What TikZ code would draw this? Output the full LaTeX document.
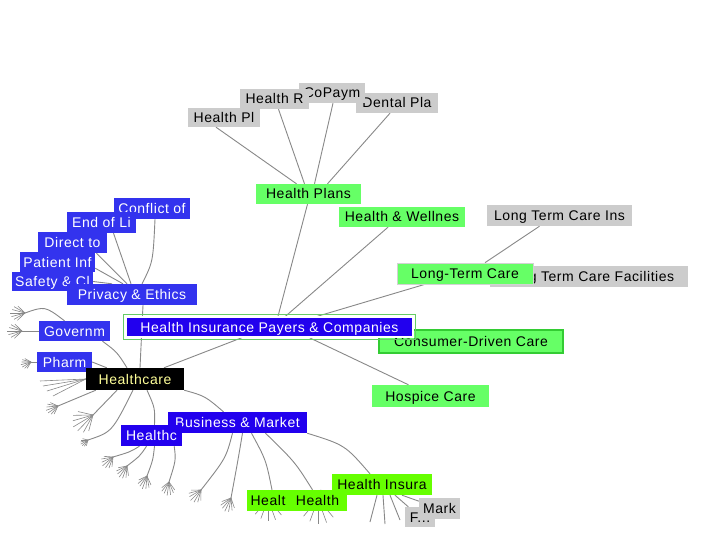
\documentclass[tikz,border=0pt]{standalone}
\usepackage{fontspec}
\setmainfont{Liberation Sans}[LetterSpace=4]
\usetikzlibrary{calc,backgrounds}
\definecolor{linec}{RGB}{136,136,136}
\definecolor{leafc}{RGB}{204,204,204}
\definecolor{greenc}{RGB}{102,255,102}
\definecolor{limec}{RGB}{102,255,0}
\definecolor{cdcline}{RGB}{51,204,51}
\definecolor{bluea}{RGB}{51,51,238}
\definecolor{blueb}{RGB}{34,0,238}
\definecolor{roottext}{RGB}{255,255,153}
\definecolor{hipframe}{RGB}{102,204,102}
\tikzset{
  lbl/.style={rectangle, inner sep=0pt, font=\fontsize{14}{16}\selectfont, text height=10pt, text depth=0pt},
  leafbox/.style={lbl, fill=leafc, text=black},
  greenbox/.style={lbl, fill=greenc, text=black},
  limebox/.style={lbl, fill=limec, text=black},
  bluebox/.style={lbl, fill=bluea, text=white},
  deepbox/.style={lbl, fill=blueb, text=white},
  rootbox/.style={lbl, fill=black, text=roottext},
  lnk/.style={draw=linec, line width=0.9pt},
  spoke/.style={draw=linec, line width=0.6pt},
  fanpic/.pic={\foreach \ang/\len in {-44/0.75,-30/0.9,-15/1,0/1.05,15/0.95,30/0.9,44/0.7}{\draw[spoke] (0,0) -- (\ang:\len);}},
  sparsefan/.pic={\foreach \ang/\len in {-40/0.95,-20/1,0/1,20/0.95,40/0.9}{\draw[spoke] (0,0) -- (\ang:\len);}}
}
\newcommand\mybox[7]{\node[#6, minimum width={#4-#2}, minimum height={#5-#3}] (#1) at ({(#2+#4)/2},{(#3+#5)/2}) {#7};}
\begin{document}
\begin{tikzpicture}[x=1pt,y=-1pt]
\useasboundingbox (0,0) rectangle (720,540);
% grey leaves
\mybox{ltf}{490}{266}{688}{287}{leafbox}{Long Term Care Facilities}
\mybox{ltci}{487}{205}{632}{226}{leafbox}{Long Term Care Ins}
\mybox{dent}{356}{93}{438}{113}{leafbox}{Dental Pla}
\mybox{copay}{299}{83}{365}{103}{leafbox}{CoPaym}
\mybox{hr}{240}{89}{309}{109}{leafbox}{Health R}
\mybox{hpl}{188}{108}{260}{127}{leafbox}{Health Pl}
% green
\mybox{hplans}{256}{184}{361}{204}{greenbox}{Health Plans}
\mybox{hwel}{339}{207}{465}{227}{greenbox}{Health \& Wellnes}
\mybox{ltc}{397}{263}{533}{284}{greenbox,draw=gray!35,line width=0.6pt}{Long-Term Care}
\mybox{hosp}{372}{385}{489}{407}{greenbox}{Hospice Care}
\mybox{cdc}{379}{330}{563}{353}{greenbox,draw=cdcline,line width=2pt}{Consumer-Driven Care}
% blue
\mybox{conf}{114}{198}{190}{219}{bluebox}{Conflict of}
\mybox{eol}{67}{212}{136}{233}{bluebox}{End of Li}
\mybox{dir}{38}{232}{107}{253}{bluebox}{Direct to}
\mybox{pat}{20}{252}{95}{272}{bluebox}{Patient Inf}
\mybox{saf}{12}{272}{93}{291}{bluebox}{Safety \& Cl}
\mybox{priv}{67}{284}{197}{305}{bluebox}{Privacy \& Ethics}
\mybox{gov}{39}{321}{110}{341}{bluebox}{Governm}
\mybox{pharm}{37}{352}{92}{372}{bluebox}{Pharm}
\mybox{hip}{126}{317}{413}{337}{deepbox,draw=white,line width=1.5pt}{Health Insurance Payers \& Companies}
\draw[hipframe, line width=0.8pt] ($(hip.south west)+(-1.5,1.5)$) rectangle ($(hip.north east)+(1.5,-1.5)$);
\mybox{bm}{168}{412}{307}{433}{deepbox}{Business \& Market}
\mybox{hc}{121}{425}{182}{446}{deepbox}{Healthc}
\mybox{root}{86}{368}{184}{390}{rootbox}{Healthcare}
% lime
\mybox{hins}{332}{474}{432}{495}{limebox}{Health Insura}
\mybox{healt}{247}{490}{289}{511}{limebox}{Healt}
\mybox{hlth}{288}{490}{347}{511}{limebox}{Health}
\mybox{fdot}{405}{507}{435}{527}{leafbox}{F...}
\mybox{mark}{419}{498}{460}{519}{leafbox}{Mark}
% hubs and free ends
\coordinate (f1) at (25,313);
\coordinate (f2) at (22,331);
\coordinate (f3) at (31,362);
\coordinate (f4) at (58,406);
\coordinate (f5) at (93,415);
\coordinate (f6) at (88,440);
\coordinate (h1) at (113,457);
\coordinate (h2) at (127,466);
\coordinate (h3) at (147,476);
\coordinate (h4) at (169,482);
\coordinate (b1) at (201,490);
\coordinate (b2) at (231,498);
\coordinate (u1) at (268,499);
\coordinate (u2) at (318,499);
\coordinate (r1) at (40,381);
\coordinate (r2) at (43,386);
\coordinate (r3) at (47,391);
\coordinate (r4) at (53,396);
\coordinate (i1) at (370,522);
\coordinate (i2) at (385,524);
\coordinate (i3) at (400,520);
\begin{pgfonlayer}{background}
\fill[white] (0,0) rectangle (720,540);
% health plans
\draw[lnk] ($(hpl.south)+(-8,0)$) -- ($(hplans.north)+(-12,0)$);
\draw[lnk] ($(hr.south)+(4,0)$) -- ($(hplans.north)+(-4,0)$);
\draw[lnk] ($(copay.south)+(1,0)$) -- ($(hplans.north)+(6,0)$);
\draw[lnk] ($(dent.south)+(-7,0)$) -- ($(hplans.north)+(19,0)$);
\draw[lnk] ($(hplans.south)+(-1,0)$) -- ($(hip.north)+(8.5,0)$);
\draw[lnk] ($(hwel.south)+(-14,0)$) -- ($(hip.north)+(16,0)$);
\draw[lnk] ($(ltc.south)+(-40,0)$) -- ($(hip.north)+(48,0)$);
\draw[lnk] ($(ltci.south)+(-20,0)$) -- ($(ltc.north)+(20,0)$);
\draw[lnk] (ltf) -- (ltc);
\draw[lnk] (cdc) -- (hip);
\draw[lnk] ($(hosp.north)+(-22,0)$) -- ($(hip.south)+(40,0)$);
\draw[lnk] (hip) -- (root);
% privacy
\draw[lnk] ($(priv.south)+(11,0)$) -- ($(root.north)+(5,0)$);
\draw[lnk] ($(conf.south)+(3,0)$) .. controls (153,262) .. ($(priv.north)+(10,0)$);
\draw[lnk] ($(eol.south)+(12,0)$) -- ($(priv.north)+(-1,0)$);
\draw[lnk] ($(dir.south)+(24,0)$) -- ($(priv.north)+(-5,0)$);
\draw[lnk] ($(pat.south east)+(0,-4)$) -- ($(priv.north)+(-9,0)$);
\draw[lnk] (saf.east) -- ($(priv.north)+(-20,0)$);
% root children
\draw[lnk] ($(gov.south)+(28,0)$) .. controls (117,352) .. ($(root.north)+(-8,0)$);
\draw[lnk] (pharm.east) -- (root);
\draw[lnk] (root.south east) .. controls (205,396) .. ($(bm.north)+(-14,0)$);
\draw[lnk] ($(root.south)+(12,0)$) .. controls (155,408) .. ($(hc.north)+(3,0)$);
% business
\draw[lnk] (bm.south east) .. controls (345,445) .. ($(hins.north)+(-12,0)$);
\draw[lnk] ($(bm.south)+(28,0)$) .. controls (295,462) .. ($(hlth.north)+(-5,0)$);
\draw[lnk] ($(bm.south)+(14,0)$) .. controls (266,460) .. ($(healt.north)+(4,0)$);
\draw[lnk] ($(bm.south)+(-5,0)$) .. controls (226,458) .. (b1);
\draw[lnk] ($(bm.south)+(5,0)$) .. controls (238,460) .. (b2);
\draw[lnk] (healt) -- (u1);
\draw[lnk] (hlth) -- (u2);
% health insura
\draw[lnk] ($(hins.south)+(-5,0)$) -- (i1);
\draw[lnk] ($(hins.south)+(1,0)$) -- (i2);
\draw[lnk] ($(hins.south)+(8,0)$) -- (i3);
\draw[lnk] ($(hins.south)+(13,0)$) -- (fdot);
\draw[lnk] ($(hins.south)+(20,0)$) -- (mark);
% left fans
\draw[lnk] (f1) .. controls (45,306) .. ($(gov.north)+(-10,0)$);
\draw[lnk] (f2) -- (gov.west);
\draw[lnk] (f3) -- (pharm.west);
\draw[lnk] (f4) -- ($(root.south west)+(10,0)$);
\draw[lnk] (f5) -- ($(root.south)+(-18,0)$);
\draw[lnk] (f6) .. controls (112,432) .. ($(root.south)+(-2,0)$);
\foreach \c in {r1,r2,r3,r4}{\draw[spoke] (root.west) -- (\c);}
% healthc fans
\draw[lnk] ($(hc.south)+(-12,0)$) .. controls (130,452) .. (h1);
\draw[lnk] ($(hc.south)+(-5,0)$) .. controls (140,456) .. (h2);
\draw[lnk] ($(hc.south)+(3,0)$) .. controls (153,460) .. (h3);
\draw[lnk] ($(hc.south east)+(-8,0)$) .. controls (176,460) .. (h4);
% fan pics
\pic[rotate=180,scale=14] at (f1) {fanpic};
\pic[rotate=180,scale=14] at (f2) {fanpic};
\pic[rotate=195,scale=10] at (f3) {fanpic};
\pic[rotate=200,scale=12] at (f4) {fanpic};
\pic[rotate=211,scale=22] at (f5) {fanpic};
\pic[rotate=210,scale=8] at (f6) {fanpic};
\pic[rotate=220,scale=13] at (h1) {fanpic};
\pic[rotate=235,scale=13] at (h2) {fanpic};
\pic[rotate=250,scale=13] at (h3) {fanpic};
\pic[rotate=262,scale=13] at (h4) {fanpic};
\pic[rotate=225,scale=14] at (b1) {fanpic};
\pic[rotate=245,scale=14] at (b2) {fanpic};
\pic[rotate=270,scale=22] at (u1) {sparsefan};
\pic[rotate=270,scale=25] at (u2) {sparsefan};
\end{pgfonlayer}
\end{tikzpicture}
\end{document}
